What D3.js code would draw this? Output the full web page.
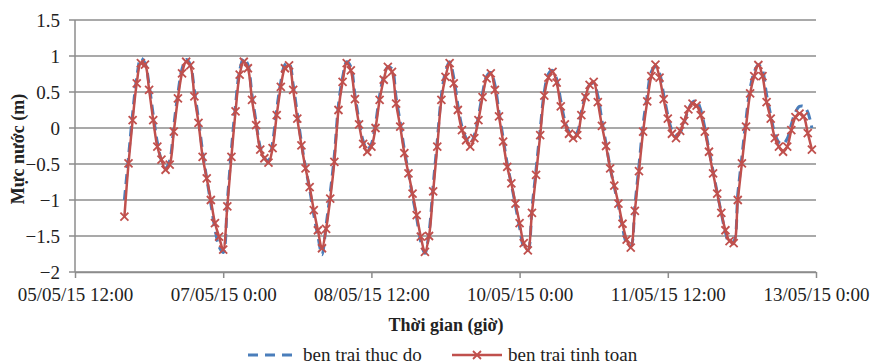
<!DOCTYPE html>
<html>
<head>
<meta charset="utf-8">
<script src="https://cdn.jsdelivr.net/npm/d3@7"></script>
<style>
  body { margin: 0; background: #fff; }
  text { font-family: "Liberation Serif", "Times New Roman", serif; }
</style>
</head>
<body>
<div id="chart"></div>
<script>
// hourly series, first value at 06/05/15 0:00
const startTime = new Date(2015, 4, 6, 0, 0);

const thucDo = [
  -1.00, -0.40, 0.20, 0.70, 0.97, 0.90, 0.60, 0.18, -0.20, -0.45, -0.55, -0.45,
  0.03, 0.48, 0.82, 0.95, 0.88, 0.52, 0.12, -0.33, -0.70, -1.05, -1.40, -1.65,
  -1.73, -1.02, -0.30, 0.32, 0.80, 0.97, 0.88, 0.46, 0.08, -0.27, -0.42, -0.45,
  -0.20, 0.26, 0.64, 0.88, 0.90, 0.60, 0.20, -0.20, -0.55, -0.85, -1.20, -1.50,
  -1.76, -1.35, -0.90, -0.38, 0.32, 0.70, 0.92, 0.85, 0.46, 0.10, -0.18, -0.30,
  -0.22, 0.06, 0.45, 0.72, 0.85, 0.82, 0.42, 0.08, -0.30, -0.62, -0.95, -1.25,
  -1.58, -1.74, -1.45, -0.80, -0.18, 0.45, 0.78, 0.92, 0.70, 0.32, 0.02, -0.14,
  -0.22, -0.10, 0.16, 0.48, 0.72, 0.77, 0.60, 0.22, -0.14, -0.50, -0.78, -1.08,
  -1.38, -1.65, -1.70, -1.12, -0.58, -0.02, 0.50, 0.75, 0.80, 0.68, 0.38, 0.10,
  -0.05, -0.10, -0.06, 0.22, 0.46, 0.60, 0.62, 0.45, 0.10, -0.22, -0.55, -0.82,
  -1.08, -1.38, -1.60, -1.64, -1.08, -0.52, 0.05, 0.45, 0.78, 0.85, 0.76, 0.46,
  0.18, -0.03, -0.10, -0.06, 0.08, 0.26, 0.36, 0.38, 0.25, 0.00, -0.30, -0.60,
  -0.90, -1.18, -1.45, -1.60, -1.58, -0.92, -0.40, 0.12, 0.55, 0.78, 0.88, 0.80,
  0.46, 0.18, -0.08, -0.20, -0.22, -0.15, 0.05, 0.22, 0.30, 0.30, 0.22, 0.00
];

const tinhToan = [
  -1.23, -0.49, 0.11, 0.62, 0.90, 0.88, 0.53, 0.11, -0.26, -0.44, -0.58, -0.51,
  -0.05, 0.41, 0.76, 0.92, 0.87, 0.44, 0.07, -0.40, -0.70, -1.00, -1.32, -1.51,
  -1.69, -1.09, -0.40, 0.23, 0.74, 0.92, 0.83, 0.39, 0.04, -0.30, -0.42, -0.48,
  -0.28, 0.18, 0.57, 0.83, 0.87, 0.53, 0.13, -0.24, -0.56, -0.82, -1.14, -1.42,
  -1.67, -1.40, -0.98, -0.47, 0.25, 0.64, 0.90, 0.80, 0.40, 0.05, -0.22, -0.33,
  -0.26, 0.00, 0.39, 0.67, 0.85, 0.78, 0.34, 0.02, -0.35, -0.63, -0.91, -1.21,
  -1.51, -1.72, -1.50, -0.88, -0.26, 0.39, 0.71, 0.90, 0.62, 0.25, -0.03, -0.17,
  -0.26, -0.14, 0.11, 0.43, 0.69, 0.76, 0.53, 0.16, -0.19, -0.54, -0.77, -1.05,
  -1.32, -1.60, -1.70, -1.18, -0.65, -0.10, 0.45, 0.70, 0.78, 0.63, 0.30, 0.05,
  -0.08, -0.14, -0.10, 0.18, 0.43, 0.60, 0.64, 0.36, 0.03, -0.25, -0.56, -0.80,
  -1.05, -1.33, -1.55, -1.66, -1.15, -0.60, -0.05, 0.37, 0.72, 0.88, 0.70, 0.40,
  0.13, -0.08, -0.14, -0.04, 0.10, 0.26, 0.34, 0.31, 0.18, -0.05, -0.33, -0.63,
  -0.91, -1.18, -1.42, -1.57, -1.60, -1.00, -0.49, 0.02, 0.48, 0.72, 0.875, 0.72,
  0.36, 0.13, -0.14, -0.26, -0.33, -0.26, -0.03, 0.15, 0.20, 0.16, -0.07, -0.30
];

const yTicks = [-2, -1.5, -1, -0.5, 0, 0.5, 1, 1.5];
const xDomain = [new Date(2015, 4, 5, 12, 0), new Date(2015, 4, 13, 0, 0)];
const legendNames = ["ben trai thuc do", "ben trai tinh toan"];

const width = 872, height = 364;
const m = { left: 75, right: 816, top: 20, bottom: 272 };
const blue = "#4a7ebb", red = "#c0504d", grid = "#8c8c8c";

const svg = d3.select("#chart").append("svg")
    .attr("width", width)
    .attr("height", height);

const x = d3.scaleTime().domain(xDomain).range([m.left, m.right]);
const y = d3.scaleLinear().domain([-2, 1.5]).range([m.bottom, m.top]);

const times = tinhToan.map((d, i) => d3.timeHour.offset(startTime, i));
const xTicks = d3.range(0, 6).map(i => d3.timeHour.offset(xDomain[0], i * 36));

// gridlines
svg.append("g")
    .selectAll("line")
    .data(yTicks)
    .join("line")
    .attr("x1", m.left - 6)
    .attr("x2", m.right)
    .attr("y1", d => y(d))
    .attr("y2", d => y(d))
    .attr("stroke", grid)
    .attr("stroke-width", 1.5);

// y axis line
svg.append("line")
    .attr("x1", m.left).attr("x2", m.left)
    .attr("y1", m.top).attr("y2", m.bottom)
    .attr("stroke", grid).attr("stroke-width", 1.5);

// x axis
const xAxis = svg.append("g")
    .attr("transform", `translate(0,${m.bottom})`)
    .call(d3.axisBottom(x)
        .tickValues(xTicks)
        .tickFormat(d3.timeFormat("%d/%m/%y %-H:%M"))
        .tickSize(6)
        .tickSizeOuter(0)
        .tickPadding(10));
xAxis.select(".domain").attr("stroke", grid).attr("stroke-width", 1.5);
xAxis.selectAll(".tick line").attr("stroke", grid).attr("stroke-width", 1.5);
xAxis.selectAll(".tick text")
    .attr("font-size", 19)
    .attr("fill", "#222");

// y labels
svg.append("g")
    .selectAll("text")
    .data(yTicks)
    .join("text")
    .attr("x", 60)
    .attr("y", d => y(d))
    .attr("dy", "0.35em")
    .attr("text-anchor", "end")
    .attr("font-size", 19)
    .attr("fill", "#222")
    .text(d => d3.format("")(d));

const line = d3.line()
    .x((d, i) => x(times[i]))
    .y(d => y(d))
    .curve(d3.curveCatmullRom);

svg.append("path")
    .datum(thucDo)
    .attr("d", line)
    .attr("fill", "none")
    .attr("stroke", blue)
    .attr("stroke-width", 3)
    .attr("stroke-dasharray", "10,6");

svg.append("path")
    .datum(tinhToan)
    .attr("d", line)
    .attr("fill", "none")
    .attr("stroke", red)
    .attr("stroke-width", 2.5);

function crossPath(cx, cy, r) {
    return `M${cx - r},${cy - r}L${cx + r},${cy + r}M${cx - r},${cy + r}L${cx + r},${cy - r}`;
}

svg.append("g")
    .selectAll("path")
    .data(tinhToan)
    .join("path")
    .attr("d", (d, i) => crossPath(x(times[i]), y(d), 4))
    .attr("stroke", red)
    .attr("stroke-width", 1.8)
    .attr("fill", "none");

// axis titles
svg.append("text")
    .attr("transform", `translate(24,${(m.top + m.bottom) / 2 + 3}) rotate(-90)`)
    .attr("text-anchor", "middle")
    .attr("font-size", 18)
    .attr("font-weight", "bold")
    .attr("fill", "#222")
    .text("Mực nước (m)");

svg.append("text")
    .attr("x", 446)
    .attr("y", 331)
    .attr("text-anchor", "middle")
    .attr("font-size", 18)
    .attr("font-weight", "bold")
    .attr("fill", "#222")
    .text("Thời gian (giờ)");

// legend
const legend = svg.append("g");
legend.append("line")
    .attr("x1", 248).attr("x2", 297).attr("y1", 355).attr("y2", 355)
    .attr("stroke", blue).attr("stroke-width", 3).attr("stroke-dasharray", "10,7");
legend.append("text")
    .attr("x", 303).attr("y", 361)
    .attr("font-size", 19).attr("fill", "#222")
    .text(legendNames[0]);
legend.append("line")
    .attr("x1", 452).attr("x2", 502).attr("y1", 355).attr("y2", 355)
    .attr("stroke", red).attr("stroke-width", 2.5);
legend.append("path")
    .attr("d", crossPath(477, 355, 4))
    .attr("stroke", red).attr("stroke-width", 1.8);
legend.append("text")
    .attr("x", 508).attr("y", 361)
    .attr("font-size", 19).attr("fill", "#222")
    .text(legendNames[1]);
</script>
</body>
</html>
